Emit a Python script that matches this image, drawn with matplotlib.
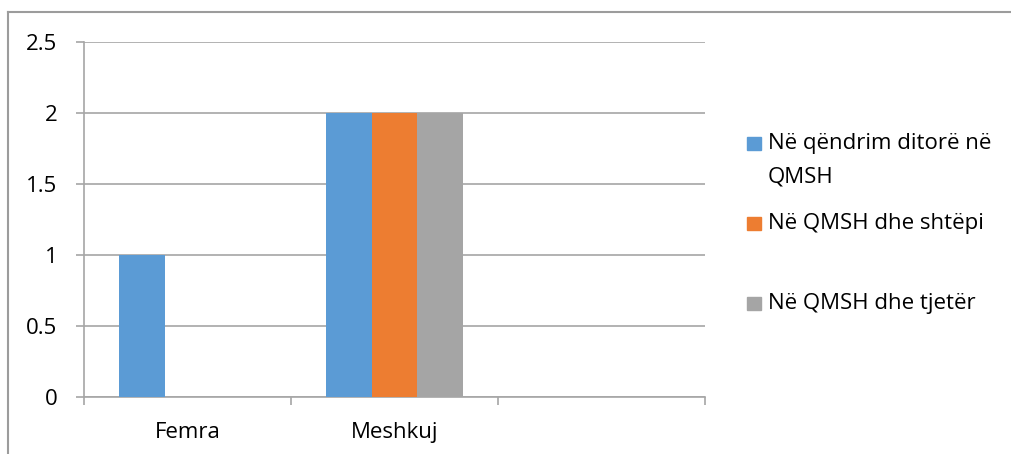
import numpy as np
import matplotlib.pyplot as plt
from matplotlib.patches import Rectangle
from matplotlib.lines import Line2D

categories = ["Femra", "Meshkuj", ""]
series_names = ["Në qëndrim ditorë në\nQMSH", "Në QMSH dhe shtëpi", "Në QMSH dhe tjetër"]
values = [
    [1, 2, 0],  # Në qëndrim ditorë në QMSH
    [0, 2, 0],  # Në QMSH dhe shtëpi
    [0, 2, 0],  # Në QMSH dhe tjetër
]
colors = ["#5B9BD5", "#ED7D31", "#A5A5A5"]
yticks = [0, 0.5, 1, 1.5, 2, 2.5]
ytick_labels = ["0", "0.5", "1", "1.5", "2", "2.5"]

plt.rcParams["font.family"] = ["Open Sans", "DejaVu Sans"]
GRAY = "#A6A6A6"
W, H = 1012, 454
FS = 16

fig = plt.figure(figsize=(W / 100, H / 100), dpi=100)
ax = fig.add_axes([84 / W, 1 - 397 / H, (705 - 84) / W, (397 - 42) / H])

x = np.arange(len(categories)) + 0.5
bw = 0.22
for i, (vals, c) in enumerate(zip(values, colors)):
    ax.bar(x + (i - 1) * bw, vals, width=bw, color=c, linewidth=0, zorder=3)

ax.set_xlim(0, len(categories))
ax.set_ylim(0, 2.5)
ax.set_yticks(yticks)
ax.set_yticklabels(ytick_labels, fontsize=FS)
ax.yaxis.grid(True, color=GRAY, linewidth=1.2, zorder=0)

ax.set_xticks(np.arange(len(categories) + 1))
ax.set_xticklabels([])
ax.set_xticks(x, minor=True)
ax.set_xticklabels(categories, minor=True, fontsize=FS)
ax.tick_params(axis="x", which="major", length=6, color=GRAY, width=1.2)
ax.tick_params(axis="x", which="minor", length=0, pad=18)
ax.tick_params(axis="y", length=6, color=GRAY, width=1.2, pad=13)

for s in ["top", "right"]:
    ax.spines[s].set_visible(False)
for s in ["left", "bottom"]:
    ax.spines[s].set_color(GRAY)
    ax.spines[s].set_linewidth(1.2)

# legend drawn by hand to follow the reference layout
baselines = [[149, 182], [229], [309]]
for name, c, bl in zip(series_names, colors, baselines):
    fig.patches.append(Rectangle((747 / W, 1 - (bl[0] + 1) / H), 14 / W, 13 / H,
                                 transform=fig.transFigure, color=c))
    for line, b in zip(name.split("\n"), bl):
        fig.text(768 / W, 1 - b / H, line, fontsize=FS, va="baseline", ha="left")

# outer chart frame
fig.add_artist(Line2D([8 / W, 1], [1 - 12 / H, 1 - 12 / H], color="#9C9C9C", linewidth=1.5))
fig.add_artist(Line2D([8 / W, 8 / W], [0, 1 - 12 / H], color="#9C9C9C", linewidth=1.5))

fig.savefig("out.png", dpi=100)
